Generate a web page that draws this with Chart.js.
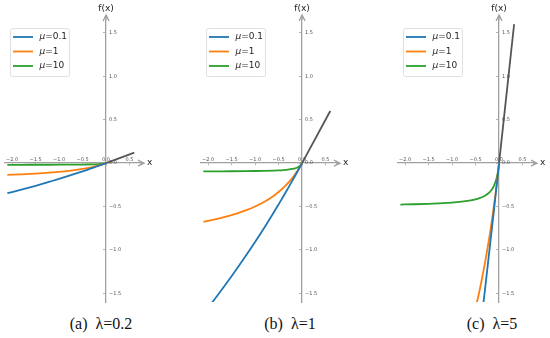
<!DOCTYPE html>
<html>
<head>
<meta charset="utf-8">
<script src="https://cdn.jsdelivr.net/npm/chart.js@4"></script>
<style>
  html, body { margin: 0; padding: 0; background: #fff; }
  body { width: 550px; height: 338px; position: relative; overflow: hidden; }
  .panel { position: absolute; top: 0; width: 160px; height: 310px; }
  .caption { position: absolute; top: 315px; font-family: 'Liberation Serif', 'Times New Roman', serif;
    font-size: 16px; white-space: pre; transform: translateX(-50%); color: #111; }
</style>
</head>
<body>
<div class="panel" style="left:0px"><canvas id="c0"></canvas></div>
<div class="panel" style="left:196px"><canvas id="c1"></canvas></div>
<div class="panel" style="left:393px"><canvas id="c2"></canvas></div>
<div class="caption" id="cap0" style="left:101px"></div>
<div class="caption" id="cap1" style="left:290px"></div>
<div class="caption" id="cap2" style="left:492px"></div>
<script>
// x samples for the negative branch (shared by every curve)
const xs = [-2.1, -1.8, -1.5, -1.2, -1.0, -0.8, -0.6, -0.5, -0.4, -0.3, -0.2, -0.15, -0.1, -0.07, -0.05, -0.03, -0.02, -0.01, 0]
const muLabels = ['μ=0.1', 'μ=1', 'μ=10']
const captions = ['(a)  λ=0.2', '(b)  λ=1', '(c)  λ=5']
const xTicks = [-2.0, -1.5, -1.0, -0.5, 0.0, 0.5]
const yTicks = [-1.5, -1.0, -0.5, 0.0, 0.5, 1.0, 1.5]

// (a) lambda = 0.2
const a_mu01 = [-0.347, -0.305, -0.261, -0.214, -0.182, -0.148, -0.113, -0.095, -0.077, -0.058, -0.039, -0.030, -0.020, -0.014, -0.010, -0.006, -0.004, -0.002, 0]
const a_mu1 = [-0.135, -0.129, -0.120, -0.109, -0.100, -0.089, -0.075, -0.067, -0.057, -0.046, -0.033, -0.026, -0.018, -0.013, -0.0095, -0.0058, -0.0039, -0.002, 0]
const a_mu10 = [-0.019, -0.019, -0.0188, -0.0185, -0.0182, -0.0178, -0.0171, -0.0167, -0.016, -0.015, -0.0133, -0.012, -0.010, -0.0082, -0.0067, -0.0046, -0.0033, -0.0018, 0]
const a_posX = [0, 0.6]
const a_posY = [0, 0.12]

// (b) lambda = 1
const b_mu01 = [-1.736, -1.525, -1.304, -1.071, -0.909, -0.741, -0.566, -0.476, -0.385, -0.291, -0.196, -0.148, -0.099, -0.070, -0.050, -0.030, -0.020, -0.010, 0]
const b_mu1 = [-0.677, -0.643, -0.600, -0.545, -0.500, -0.444, -0.375, -0.333, -0.286, -0.231, -0.167, -0.130, -0.091, -0.065, -0.048, -0.029, -0.020, -0.010, 0]
const b_mu10 = [-0.0955, -0.0947, -0.0938, -0.0923, -0.0909, -0.0889, -0.0857, -0.0833, -0.080, -0.075, -0.0667, -0.060, -0.050, -0.0412, -0.0333, -0.0231, -0.0167, -0.0091, 0]
const b_posX = [0, 0.6]
const b_posY = [0, 0.6]

// (c) lambda = 5
const c_mu01 = [-8.68, -7.63, -6.52, -5.36, -4.55, -3.70, -2.83, -2.38, -1.92, -1.46, -0.98, -0.74, -0.50, -0.35, -0.25, -0.15, -0.10, -0.05, 0]
const c_mu1 = [-3.39, -3.21, -3.00, -2.73, -2.50, -2.22, -1.88, -1.67, -1.43, -1.15, -0.83, -0.65, -0.45, -0.33, -0.24, -0.15, -0.10, -0.05, 0]
const c_mu10 = [-0.477, -0.474, -0.469, -0.462, -0.455, -0.444, -0.429, -0.417, -0.400, -0.375, -0.333, -0.300, -0.250, -0.206, -0.167, -0.115, -0.083, -0.045, 0]
const c_posX = [0, 0.32]
const c_posY = [0, 1.6]

const colors = ['#1f77b4', '#ff7f0e', '#2ca02c']
const axisColor = '#a0a0a0'

const panels = [
  { neg: [a_mu01, a_mu1, a_mu10], posX: a_posX, posY: a_posY },
  { neg: [b_mu01, b_mu1, b_mu10], posX: b_posX, posY: b_posY },
  { neg: [c_mu01, c_mu1, c_mu10], posX: c_posX, posY: c_posY }
]

const fmt = (v) => (v < 0 ? '\u2212' : '') + Math.abs(v).toFixed(1)

// axis arrows, tick labels, axis names and the in-plot legend
const decor = {
  id: 'decor',
  afterDraw(chart) {
    const { ctx, chartArea: area, scales: { x, y } } = chart
    const x0 = x.getPixelForValue(0)
    const y0 = y.getPixelForValue(0)
    ctx.save()

    ctx.strokeStyle = axisColor
    ctx.lineWidth = 1.3
    ctx.beginPath()
    ctx.moveTo(area.right, y0); ctx.lineTo(area.right + 4, y0)
    ctx.moveTo(area.right - 2, y0 - 3); ctx.lineTo(area.right + 4, y0); ctx.lineTo(area.right - 2, y0 + 3)
    ctx.moveTo(x0, area.top); ctx.lineTo(x0, area.top - 5)
    ctx.moveTo(x0 - 3, area.top + 1); ctx.lineTo(x0, area.top - 5); ctx.lineTo(x0 + 3, area.top + 1)
    ctx.stroke()

    ctx.fillStyle = '#555'
    ctx.font = '5px "DejaVu Sans"'
    ctx.textAlign = 'center'
    ctx.textBaseline = 'alphabetic'
    x.ticks.forEach(t => ctx.fillText(fmt(t.value), x.getPixelForValue(t.value), y0 - 2))
    ctx.textAlign = 'left'
    ctx.textBaseline = 'middle'
    y.ticks.forEach(t => ctx.fillText(fmt(t.value), x0 + 3, y.getPixelForValue(t.value)))

    ctx.fillStyle = '#222'
    ctx.font = '9px "DejaVu Sans"'
    ctx.textAlign = 'left'
    ctx.fillText('x', area.right + 7, y0)
    ctx.textAlign = 'center'
    ctx.fillText('f(x)', x0, 9)

    // legend box
    const lx = 10, ly = 28, lw = 59, lh = 48
    ctx.beginPath()
    ctx.roundRect(lx + 0.5, ly + 0.5, lw, lh, 2)
    ctx.fillStyle = 'rgba(255,255,255,0.8)'
    ctx.fill()
    ctx.strokeStyle = '#d8d8d8'
    ctx.lineWidth = 0.8
    ctx.stroke()
    chart.data.datasets.filter(d => d.label).forEach((d, i) => {
      const ry = 37 + i * 14.5
      ctx.strokeStyle = d.borderColor
      ctx.lineWidth = 1.8
      ctx.beginPath()
      ctx.moveTo(13, ry); ctx.lineTo(33, ry)
      ctx.stroke()
      ctx.fillStyle = '#262626'
      ctx.textAlign = 'left'
      ctx.textBaseline = 'middle'
      ctx.font = 'italic 9px "DejaVu Sans"'
      ctx.fillText(d.label[0], 39.5, ry)
      const w = ctx.measureText(d.label[0]).width
      ctx.font = '9px "DejaVu Sans"'
      ctx.fillText(d.label.slice(1), 39.5 + w, ry)
    })
    ctx.restore()
  }
}

panels.forEach((p, k) => {
  document.getElementById('cap' + k).textContent = captions[k]
  const datasets = p.neg.map((ys, i) => ({
    label: muLabels[i],
    data: xs.map((x, j) => ({ x, y: ys[j] })),
    borderColor: colors[i],
    borderWidth: 1.8,
    showLine: true,
    pointRadius: 0,
    cubicInterpolationMode: 'monotone'
  }))
  datasets.push({
    label: '',
    data: p.posX.map((x, j) => ({ x, y: p.posY[j] })),
    borderColor: '#555555',
    borderWidth: 1.8,
    showLine: true,
    pointRadius: 0
  })

  new Chart(document.getElementById('c' + k), {
    type: 'scatter',
    data: { datasets },
    options: {
      responsive: true,
      maintainAspectRatio: false,
      animation: false,
      layout: { padding: { left: 5, right: 20, top: 20, bottom: 8 } },
      plugins: { legend: { display: false }, tooltip: { enabled: false } },
      scales: {
        x: {
          type: 'linear', min: -2.15, max: 0.722, position: { y: 0 },
          afterBuildTicks: (s) => { s.ticks = xTicks.map(v => ({ value: v })) },
          ticks: { display: false },
          grid: { drawOnChartArea: false, drawTicks: true, tickLength: 2, color: axisColor, lineWidth: 0.8 },
          border: { display: true, color: axisColor, width: 1.3 }
        },
        y: {
          type: 'linear', min: -1.6, max: 1.649, position: { x: 0 },
          afterBuildTicks: (s) => { s.ticks = yTicks.map(v => ({ value: v })) },
          ticks: { display: false },
          grid: { drawOnChartArea: false, drawTicks: true, tickLength: 2, color: axisColor, lineWidth: 0.8 },
          border: { display: true, color: axisColor, width: 1.3 }
        }
      }
    },
    plugins: [decor]
  })
})
</script>
</body>
</html>
